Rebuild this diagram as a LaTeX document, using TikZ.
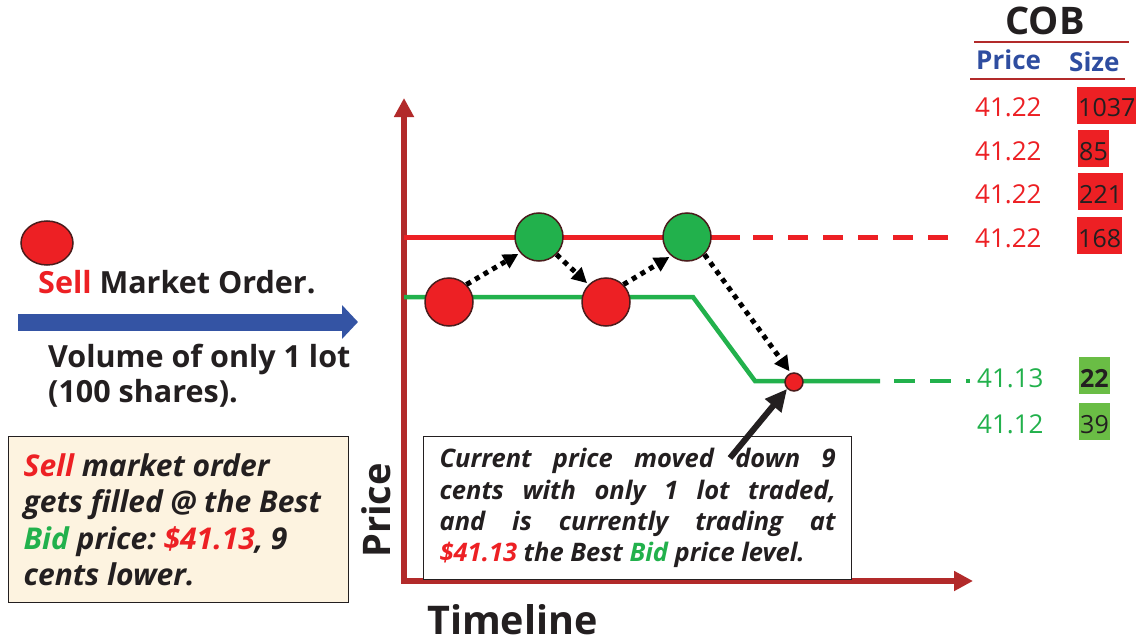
\documentclass[tikz,border=0pt]{standalone}
\usepackage{fontspec}
\setmainfont{Open Sans}
\usetikzlibrary{arrows.meta}
\frenchspacing
\definecolor{askred}{HTML}{ED2024}
\definecolor{bidgreen}{HTML}{22B14C}
\definecolor{sizegreen}{HTML}{6ABD45}
\definecolor{axisred}{HTML}{B22A2A}
\definecolor{headblue}{HTML}{2E4DA0}
\definecolor{orderblue}{HTML}{3454A4}
\definecolor{noteback}{HTML}{FDF3E0}
\definecolor{ballrim}{HTML}{4A1C1C}
\definecolor{inkgray}{HTML}{231F20}
\newcommand{\fsz}[2]{\fontsize{#1}{#2}\selectfont}
\newcommand{\normsp}{\spaceskip=0pt\relax\xspaceskip=0pt\relax}
\newcommand{\jline}[1]{{\normsp\makebox[396pt][s]{#1}}}
\tikzset{
  ballred/.style={circle,draw=ballrim,line width=1.5pt,fill=askred,minimum size=48pt,inner sep=0pt},
  ballgreen/.style={ballred,fill=bidgreen},
  hop/.style={line width=5pt,dash pattern=on 5pt off 5pt,-{Triangle[length=15pt,width=15pt]},shorten >=2pt},
  axis/.style={axisred,line width=5.5pt,{Triangle[length=19pt,width=19pt]}-{Triangle[length=19pt,width=19pt]}},
  askline/.style={askred,line width=5pt},
  bidline/.style={bidgreen,line width=4.5pt},
  lvl/.style={anchor=base west,inner sep=0pt,font=\fsz{26}{30}},
  sizebox/.style={anchor=base west,inner xsep=1pt,inner ysep=7pt,text height=23pt,text depth=0pt,font=\fsz{25}{30},text=inkgray},
  notebox/.style={draw=inkgray,line width=1.2pt,anchor=north west,align=left,text=inkgray},
  bigtext/.style={anchor=base west,inner sep=0pt,font=\bfseries\fsz{30.5}{35},text=inkgray}
}
\begin{document}
\begin{tikzpicture}[x=1pt,y=-1pt]
\useasboundingbox (0,0) rectangle (1141,642);
\fill[white] (0,0) rectangle (1141,642);
% order on the left
\draw[ballrim,line width=1.5pt,fill=askred] (47,243) ellipse (26 and 22);
\node[bigtext] (sellorder) at (38,293) {{\color{askred}Sell} Market Order.};
\draw[orderblue,line width=17pt,-{Triangle[length=16pt,width=33pt]}] (18,322) -- (358,322);
\node[bigtext] (volume) at (48,367) {Volume of only 1 lot};
\node[bigtext] (shares) at (48,402) {(100 shares).};
\node[notebox,fill=noteback,inner xsep=15pt,text width=310pt,minimum height=166pt,font=\bfseries\itshape\fsz{30}{36.5}] (fillnote) at (8,436)
  {\normsp{\color{askred}Sell} market order\\gets filled @ the Best\\{\color{bidgreen}Bid} price: {\color{askred}\$41.13}, 9\\cents lower.};
% axes
\coordinate (origin) at (404,581);
\coordinate (ytip) at (404,98);
\coordinate (xtip) at (973,581);
\draw[axis] (ytip) -- (origin) -- (xtip);
\node[rotate=90,anchor=base west,inner sep=0pt,font=\bfseries\fsz{38}{40},text=inkgray] (pricelabel) at (390,558) {Price};
\node[anchor=base west,inner sep=0pt,font=\bfseries\fsz{39.5}{42},text=inkgray] (timelabel) at (427,634) {Timeline};
% best ask and best bid
\draw[askline] (404,237) -- (740,237);
\draw[askline,dash pattern=on 20pt off 15pt,dash phase=22pt] (740,237) -- (948,237);
\draw[bidline] (404,297) -- (693,297) -- (755,381) -- (880,381);
\draw[bidline,dash pattern=on 21pt off 15pt,dash phase=22pt] (880,381) -- (970,381);
% trades
\node[ballred] (r1) at (449,302) {};
\node[ballgreen] (g1) at (539,237) {};
\node[ballred] (r2) at (606,302) {};
\node[ballgreen] (g2) at (687,237) {};
\node[ballred,minimum size=18pt] (hit) at (794,382) {};
\draw[hop] (r1.45) -- (g1.220);
\draw[hop] (g1.-45) -- (r2.135);
\draw[hop] (r2.45) -- (g2.230);
\draw[hop] (g2.-45) -- (hit.110);
% note box
\node[notebox,fill=white,inner xsep=16pt,text width=396pt,minimum height=143pt,font=\bfseries\itshape\fsz{25.5}{31.3}] (pricenote) at (423,436)
  {\jline{Current price moved down 9}\\
   \jline{cents with only 1 lot traded,}\\
   \jline{and is currently trading at}\\
   \normsp{\color{askred}\$41.13} the Best {\color{bidgreen}Bid} price level.};
\coordinate (tail) at (730,458);
\draw[inkgray,line width=6pt,-{Triangle[length=22pt,width=20pt]}] (tail) -- (hit.225);
% COB
\node[anchor=base,inner sep=0pt,font=\bfseries\fsz{38}{40},text=inkgray] (cob) at (1045,35) {COB};
\draw[axisred,line width=2pt] (974,42) -- (1129,42);
\node[anchor=base west,inner sep=0pt,font=\bfseries\fsz{26}{28},text=headblue] (pricehead) at (976,70) {Price};
\node[anchor=base west,inner sep=0pt,font=\bfseries\fsz{26}{28},text=headblue] (sizehead) at (1069,72) {Size};
\draw[axisred,line width=2pt] (970,79) -- (1125,79);
\node[lvl,text=askred] (a1) at (975,117) {41.22};
\node[lvl,text=askred] (a2) at (975,160) {41.22};
\node[lvl,text=askred] (a3) at (975,203) {41.22};
\node[lvl,text=askred] (a4) at (975,247) {41.22};
\node[sizebox,fill=askred] (s1) at (1077,117) {1037};
\node[sizebox,fill=askred] (s2) at (1078,160) {85};
\node[sizebox,fill=askred] (s3) at (1078,203) {221};
\node[sizebox,fill=askred] (s4) at (1077,247) {168};
\node[lvl,text=bidgreen] (b1) at (977,387) {41.13};
\node[lvl,text=bidgreen] (b2) at (977,433) {41.12};
\node[sizebox,fill=sizegreen,font=\bfseries\fsz{25}{30}] (s5) at (1079,387) {22};
\node[sizebox,fill=sizegreen] (s6) at (1079,433) {39};
\end{tikzpicture}
\end{document}
